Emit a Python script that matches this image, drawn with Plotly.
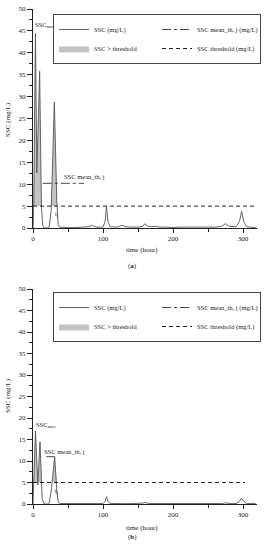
import numpy as np
import plotly.graph_objects as go

# ---------------- data ----------------
time_a = [0, 1, 3.5, 5.5, 9.5, 12, 14, 16, 22, 23, 26, 30.5, 34, 36, 38, 45, 50, 60, 70, 80,
          85, 90, 100, 103, 105, 107, 110, 120, 127, 132, 140, 150, 157, 160, 163, 170, 175,
          180, 190, 200, 210, 220, 230, 240, 250, 260, 270, 275, 280, 290, 295, 298, 301, 305,
          310, 318]
ssc_a = [0, 5, 44.5, 12.6, 35.8, 5, 0.5, 0, 0, 0.2, 4, 28.8, 6, 0.8, 0.2, 0.1, 0.1, 0.1, 0.2, 0.3,
         0.6, 0.2, 0.2, 1.5, 5.0, 1.5, 0.3, 0.2, 0.6, 0.3, 0.2, 0.2, 0.4, 1.0, 0.4, 0.3, 0.4,
         0.2, 0.2, 0.1, 0.2, 0.2, 0.1, 0.1, 0.1, 0.2, 0.4, 1.0, 0.4, 0.3, 1.5, 3.8, 1.5, 0.3,
         0.2, 0.1]

time_b = [0, 1, 3.5, 7, 10, 13, 16, 22, 23, 26, 31, 34, 36, 38, 45, 50, 60, 70, 80,
          85, 90, 100, 103, 105, 107, 110, 120, 127, 132, 140, 150, 157, 160, 163, 170, 175,
          180, 190, 200, 210, 220, 230, 240, 250, 260, 270, 275, 280, 290, 295, 298, 301, 305,
          310, 318]
ssc_b = [0, 6, 17.0, 4.4, 14.5, 1.3, 0, 0, 0.2, 3, 11.0, 3, 0.5, 0.1, 0.1, 0.1, 0.1, 0.1, 0.1,
         0.2, 0.1, 0.1, 0.6, 1.7, 0.6, 0.1, 0.1, 0.2, 0.1, 0.1, 0.1, 0.2, 0.4, 0.2, 0.1, 0.1,
         0.1, 0.1, 0.1, 0.1, 0.1, 0.1, 0.1, 0.1, 0.1, 0.1, 0.3, 0.1, 0.1, 0.6, 1.4, 0.6, 0.1,
         0.1, 0.1]

threshold = 5.0
threshold_end_a = 316
threshold_end_b = 303

mean_a = 10.2
mean_span_a = [14, 73]
mean_b = 11.0
mean_span_b = [19, 31]

x_ticks = [0, 100, 200, 300]
y_ticks = [0, 5, 10, 15, 20, 25, 30, 35, 40, 45, 50]

FONT = "Liberation Serif"
W, H = 265, 550
ML, MR, MT, MB = 33, 8, 9, 46
PW = W - ML - MR
PH = H - MT - MB


def py(p):
    """pixel row -> paper y"""
    return (H - MB - p) / PH


def px(p):
    """pixel column -> paper x"""
    return (p - ML) / PW


def above_threshold(t, v, thr):
    """Insert threshold crossings so the fill follows the curve exactly."""
    xs, ys = [], []
    for i in range(len(t)):
        if i > 0:
            v0, v1 = v[i - 1], v[i]
            if (v0 - thr) * (v1 - thr) < 0:
                tc = t[i - 1] + (thr - v0) * (t[i] - t[i - 1]) / (v1 - v0)
                xs.append(tc)
                ys.append(thr)
        xs.append(t[i])
        ys.append(max(v[i], thr))
    return xs, ys


fig = go.Figure()


def add_panel(t, v, mean_val, mean_span, thr_end, xa, ya, legend):
    fx, fy = above_threshold(t, v, threshold)
    fig.add_trace(go.Scatter(x=fx, y=[threshold] * len(fx), mode="lines",
                             line=dict(width=0, color="rgba(0,0,0,0)"),
                             showlegend=False, hoverinfo="skip", xaxis=xa, yaxis=ya))
    fig.add_trace(go.Scatter(x=fx, y=fy, mode="lines", fill="tonexty",
                             fillcolor="#c4c4c4", line=dict(width=0, color="#c4c4c4"),
                             name="SSC > threshold", legend=legend, legendrank=3,
                             xaxis=xa, yaxis=ya))
    fig.add_trace(go.Scatter(x=t, y=v, mode="lines",
                             line=dict(width=0.9, color="#555555"),
                             name="SSC (mg/L)", legend=legend, legendrank=1,
                             xaxis=xa, yaxis=ya))
    fig.add_trace(go.Scatter(x=mean_span, y=[mean_val, mean_val], mode="lines",
                             line=dict(width=0.9, color="#333333", dash="dashdot"),
                             name="SSC mean_th, j (mg/L)", legend=legend, legendrank=2,
                             xaxis=xa, yaxis=ya))
    fig.add_trace(go.Scatter(x=[0, thr_end], y=[threshold, threshold], mode="lines",
                             line=dict(width=1, color="#222222", dash="4px,3px"),
                             name="SSC threshold (mg/L)", legend=legend, legendrank=4,
                             xaxis=xa, yaxis=ya))


add_panel(time_a, ssc_a, mean_a, mean_span_a, threshold_end_a, "x", "y", "legend")
add_panel(time_b, ssc_b, mean_b, mean_span_b, threshold_end_b, "x2", "y2", "legend2")

axis_common = dict(showline=True, linecolor="#222222", linewidth=1, mirror=False,
                   showgrid=False, zeroline=False, ticks="outside", ticklen=4,
                   tickwidth=1, tickcolor="#222222", automargin=False,
                   tickfont=dict(family=FONT, size=7, color="#222222"))

xaxis_cfg = dict(axis_common, range=[0, 320], tickvals=x_ticks,
                 minor=dict(ticks="outside", ticklen=2.5, dtick=50, tick0=0,
                            tickcolor="#222222", tickwidth=1))
yaxis_cfg = dict(axis_common, range=[0, 50], tickvals=y_ticks, ticklen=5,
                 minor=dict(ticks="outside", ticklen=3, dtick=2.5, tick0=0,
                            tickcolor="#222222", tickwidth=1))

leg_common = dict(orientation="h", xanchor="left", yanchor="top",
                  entrywidth=58, itemwidth=30, bordercolor="#444444", borderwidth=1,
                  bgcolor="white", font=dict(family=FONT, size=6.5, color="#222222"),
                  traceorder="normal")

fig.update_layout(
    width=W, height=H,
    margin=dict(l=ML, r=MR, t=MT, b=MB),
    paper_bgcolor="white", plot_bgcolor="white",
    font=dict(family=FONT, size=7, color="#222222"),
    xaxis=dict(xaxis_cfg, domain=[0, 1], anchor="y"),
    yaxis=dict(yaxis_cfg, domain=[py(228), 1.0], anchor="x"),
    xaxis2=dict(xaxis_cfg, domain=[0, 1], anchor="y2"),
    yaxis2=dict(yaxis_cfg, domain=[0.0, py(289)], anchor="x2"),
    legend=dict(leg_common, x=px(53), y=py(14)),
    legend2=dict(leg_common, x=px(53), y=py(292)),
)

ann = []
lab = dict(family=FONT, size=7, color="#222222")
small = dict(family=FONT, size=6.5, color="#222222")
# panel a
ann.append(dict(text="SSC<sub>max</sub>", x=0, y=46.3, xref="x", yref="y", xanchor="left",
                yanchor="middle", showarrow=False, font=small))
ann.append(dict(text="SSC mean_th, j", x=41, y=11.8, xref="x", yref="y", xanchor="left",
                yanchor="middle", showarrow=False, font=small))
ann.append(dict(text="t<sub>j</sub>", x=29, y=3.2, xref="x", yref="y", xanchor="left",
                yanchor="middle", showarrow=False, font=small))
ann.append(dict(text="time (hour)", x=px(142), y=py(250), xref="paper", yref="paper",
                xanchor="center", yanchor="middle", showarrow=False, font=lab))
ann.append(dict(text="(<b>a</b>)", x=px(132), y=py(266), xref="paper", yref="paper",
                xanchor="center", yanchor="middle", showarrow=False, font=lab))
ann.append(dict(text="SSC (mg/L)", x=px(8), y=py(120), xref="paper",
                yref="paper", xanchor="center", yanchor="middle", textangle=-90,
                showarrow=False, font=lab))
# panel b
ann.append(dict(text="SSC<sub>max</sub>", x=1, y=18.4, xref="x2", yref="y2", xanchor="left",
                yanchor="middle", showarrow=False, font=small))
ann.append(dict(text="SSC mean_th, j", x=13, y=12.3, xref="x2", yref="y2", xanchor="left",
                yanchor="middle", showarrow=False, font=small))
ann.append(dict(text="t<sub>j</sub>", x=29, y=3.0, xref="x2", yref="y2", xanchor="left",
                yanchor="middle", showarrow=False, font=small))
ann.append(dict(text="time (hour)", x=px(142), y=py(528), xref="paper", yref="paper",
                xanchor="center", yanchor="middle", showarrow=False, font=lab))
ann.append(dict(text="(<b>b</b>)", x=px(132), y=py(537), xref="paper", yref="paper",
                xanchor="center", yanchor="middle", showarrow=False, font=lab))
ann.append(dict(text="SSC (mg/L)", x=px(8), y=py(396), xref="paper",
                yref="paper", xanchor="center", yanchor="middle", textangle=-90,
                showarrow=False, font=lab))
fig.update_layout(annotations=ann)

fig.write_html("out.html", config={"displayModeBar": False},
               post_script="document.body.style.margin='0px';")
